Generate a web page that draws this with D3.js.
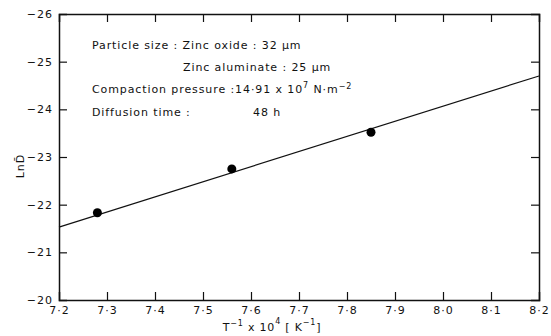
<!DOCTYPE html>
<html>
<head>
<meta charset="utf-8">
<script src="https://cdn.jsdelivr.net/npm/d3@7"></script>
<style>
  body { margin: 0; background: #fff; }
  text { font-family: "DejaVu Sans", sans-serif; fill: #111; }
</style>
</head>
<body>
<script>
// Measured points (T^-1 x 10^4, Ln D)
var invT = [7.28, 7.56, 7.85];
var lnD = [-21.83, -22.75, -23.52];

// Fitted straight line, end points
var fitX = [7.2, 8.2];
var fitY = [-21.53, -24.70];

var xTicks = [7.2, 7.3, 7.4, 7.5, 7.6, 7.7, 7.8, 7.9, 8.0, 8.1, 8.2];
var yTicks = [-20, -21, -22, -23, -24, -25, -26];

var W = 551, H = 336;
var mLeft = 59, mRight = 539, mTop = 14, mBottom = 300;

var svg = d3.select("body").append("svg")
    .attr("width", W)
    .attr("height", H);

var x = d3.scaleLinear().domain([7.2, 8.2]).range([mLeft, mRight]);
var y = d3.scaleLinear().domain([-20, -26]).range([mBottom, mTop]);

var fmt = function(d) { return d3.format(".1f")(d).replace(".", "\u00b7"); };
var yfmt = function(d) { return "\u2212" + Math.abs(d); };

// Axes: ticks point inward on all four sides
var gb = svg.append("g").attr("transform", "translate(0," + mBottom + ")")
    .call(d3.axisBottom(x).tickValues(xTicks).tickSize(-8).tickPadding(6).tickFormat(fmt));
var gt = svg.append("g").attr("transform", "translate(0," + mTop + ")")
    .call(d3.axisTop(x).tickValues(xTicks).tickSize(-8).tickFormat(""));
var gl = svg.append("g").attr("transform", "translate(" + mLeft + ",0)")
    .call(d3.axisLeft(y).tickValues(yTicks).tickSize(-8).tickPadding(6).tickFormat(yfmt));
var gr = svg.append("g").attr("transform", "translate(" + mRight + ",0)")
    .call(d3.axisRight(y).tickValues(yTicks).tickSize(-8).tickFormat(""));

[gb, gt, gl, gr].forEach(function(g) {
  g.select(".domain").attr("stroke", "#111").attr("stroke-width", 1.5);
  g.selectAll(".tick line").attr("stroke", "#111").attr("stroke-width", 1.2);
  g.selectAll(".tick text").style("font-size", "11px").style("letter-spacing", "1px").attr("fill", "#111");
});
// drop end ticks that sit on the frame corners
gb.selectAll(".tick line").filter(function(d) { return d === 7.2 || d === 8.2; }).remove();
gt.selectAll(".tick line").filter(function(d) { return d === 7.2 || d === 8.2; }).remove();
gl.selectAll(".tick line").filter(function(d) { return d === -20 || d === -26; }).remove();
gr.selectAll(".tick line").filter(function(d) { return d === -20 || d === -26; }).remove();

// Fit line
svg.append("line")
    .attr("x1", x(fitX[0])).attr("y1", y(fitY[0]))
    .attr("x2", x(fitX[1])).attr("y2", y(fitY[1]))
    .attr("stroke", "#111").attr("stroke-width", 1.2);

// Points
svg.selectAll("circle.pt").data(invT).enter().append("circle")
    .attr("class", "pt")
    .attr("cx", function(d) { return x(d); })
    .attr("cy", function(d, i) { return y(lnD[i]); })
    .attr("r", 4.5)
    .attr("fill", "#000");

// Annotation text
var ann = svg.append("g").style("font-size", "11px").style("letter-spacing", "0.9px");
ann.append("text").attr("x", 92).attr("y", 49)
    .text("Particle size : Zinc oxide : 32 \u03bcm");
ann.append("text").attr("x", 183).attr("y", 71)
    .text("Zinc  aluminate : 25 \u03bcm");
var cp = ann.append("text").attr("x", 92).attr("y", 93);
cp.append("tspan").text("Compaction  pressure  :14\u00b791 x 10");
cp.append("tspan").attr("dy", -5).style("font-size", "8px").text("7");
cp.append("tspan").attr("dy", 5).text(" N\u00b7m");
cp.append("tspan").attr("dy", -4).style("font-size", "8px").text("\u22122");
ann.append("text").attr("x", 92).attr("y", 116).text("Diffusion time :");
ann.append("text").attr("x", 253).attr("y", 116).text("48   h");

// Y axis label
var yl = svg.append("text")
    .attr("transform", "translate(24,166) rotate(-90)")
    .attr("text-anchor", "middle")
    .style("font-size", "11px")
    .style("letter-spacing", "1px");
yl.append("tspan").text("Ln");
yl.append("tspan").text("D\u0304");

// X axis label
var xl = svg.append("text")
    .attr("x", 272).attr("y", 331)
    .attr("text-anchor", "middle")
    .style("font-size", "11px")
    .style("letter-spacing", "0.8px");
xl.append("tspan").text("T");
xl.append("tspan").attr("dy", -5).style("font-size", "8px").text("\u22121");
xl.append("tspan").attr("dy", 5).text(" x 10");
xl.append("tspan").attr("dy", -7).style("font-size", "8px").text("4");
xl.append("tspan").attr("dy", 7).text(" [ K");
xl.append("tspan").attr("dy", -6).style("font-size", "8px").text("\u22121");
xl.append("tspan").attr("dy", 6).text("]");
</script>
</body>
</html>
